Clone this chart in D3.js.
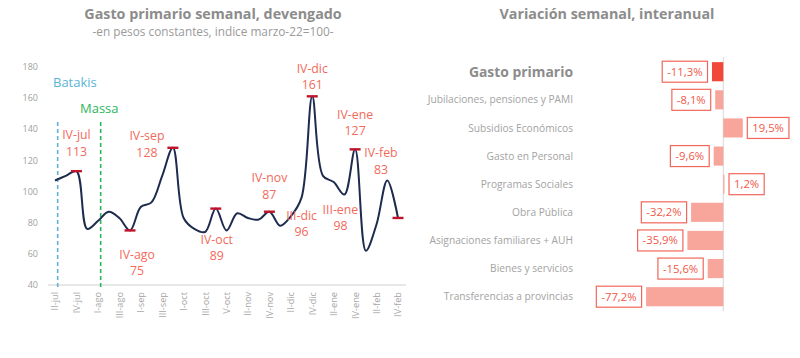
<!DOCTYPE html>
<html><head><meta charset="utf-8">
<script src="https://cdn.jsdelivr.net/npm/d3@7"></script>
<style>
body{margin:0;background:#fff;}
svg{font-family:"Open Sans","Noto Sans",sans-serif;}
</style></head>
<body><svg id="c" width="800" height="358"></svg>
<script>
// ---- Data: left chart ----
const weeks = ["II-jul","III-jul","IV-jul","V-jul","I-ago","II-ago","III-ago","IV-ago","I-sep","II-sep","III-sep","IV-sep","I-oct","II-oct","III-oct","IV-oct","V-oct","I-nov","II-nov","III-nov","IV-nov","I-dic","II-dic","III-dic","IV-dic","I-ene","II-ene","III-ene","IV-ene","I-feb","II-feb","III-feb","IV-feb"];
const gasto = [107,110,113,76,81,87,83,75,90,93,110,128,83,76,74,89,75,86,83,82,87,78,84,96,161,110,106,98,127,62,79,107,83];
const yTicks = [40,60,80,100,120,140,160,180];
const annotWeeks = ["IV-jul","IV-ago","IV-sep","IV-oct","IV-nov","III-dic","IV-dic","III-ene","IV-ene","IV-feb"];
const markerWeeks = ["IV-jul","IV-ago","IV-sep","IV-oct","IV-nov","IV-dic","IV-ene","IV-feb"];
const ministers = ["Batakis","Massa"];
const ministerPos = [0.25, 4.26]; // week index (0-based) of dashed line

// ---- Data: right chart ----
const categories = ["Gasto primario","Jubilaciones, pensiones y PAMI","Subsidios Económicos","Gasto en Personal","Programas Sociales","Obra Pública","Asignaciones familiares + AUH","Bienes y servicios","Transferencias a provincias"];
const variacion = [-11.3,-8.1,19.5,-9.6,1.2,-32.2,-35.9,-15.6,-77.2];

// ---- styles / layout ----
const annotOffsets = {"IV-jul":[0,-36],"IV-ago":[7,24],"IV-sep":[-26,-12],"IV-oct":[1,31],"IV-nov":[0,-34],"III-dic":[0,18],"IV-dic":[0,-28],"III-ene":[-4,15],"IV-ene":[0,-35],"IV-feb":[-17,-65]};
const ministerColors = ["#5ab4d6","#2db55d"];
const ministerLabelPos = [[53,82],[80,108]];

const svg = d3.select("#c");
const fmt = v => d3.format(".1f")(v).replace("\u2212","-").replace(".",",") + "%";

// Titles
svg.append("text").attr("x",213).attr("y",19).attr("text-anchor","middle")
  .attr("font-size",14.3).attr("font-weight",700).attr("fill","#8c8c8c").text("Gasto primario semanal, devengado");
svg.append("text").attr("x",213).attr("y",36).attr("text-anchor","middle")
  .attr("font-size",11.8).attr("fill","#9a9a9a").text("-en pesos constantes, indice marzo-22=100-");
svg.append("text").attr("x",607).attr("y",19).attr("text-anchor","middle")
  .attr("font-size",14.3).attr("font-weight",700).attr("fill","#8c8c8c").text("Variación semanal, interanual");

// Left chart scales
const x = d3.scaleLinear().domain([0, weeks.length-1]).range([55, 398]);
const y = d3.scaleLinear().domain([40,180]).range([285, 66.7]);

// Y axis labels
const yAx = svg.append("g").attr("transform","translate(38,0)")
  .call(d3.axisLeft(y).tickValues(yTicks).tickSize(0).tickPadding(0));
yAx.select(".domain").remove();
yAx.selectAll("text").attr("font-size",9).attr("fill","#a0a0a0").attr("font-family","Open Sans, sans-serif");

// X axis
const xAx = svg.append("g").attr("transform","translate(0,285)")
  .call(d3.axisBottom(x).tickValues(d3.range(0,weeks.length,2)).tickFormat(i=>weeks[i]).tickSize(0).tickPadding(0));
xAx.select(".domain").attr("stroke","#d0d0d0").attr("d","M48,0H406");
xAx.selectAll("text").attr("font-size",9.2).attr("fill","#a8a8a8").attr("font-family","Open Sans, sans-serif")
  .attr("transform","rotate(-90)").attr("text-anchor","end").attr("dy","0.32em").attr("x",-7).attr("y",0);

// Minister dashed lines
ministers.forEach((m,i)=>{
  svg.append("line").attr("x1",x(ministerPos[i])).attr("x2",x(ministerPos[i]))
    .attr("y1",122).attr("y2",288).attr("stroke",ministerColors[i]).attr("stroke-width",1.6)
    .attr("stroke-dasharray","4,3");
  svg.append("text").attr("x",ministerLabelPos[i][0]).attr("y",ministerLabelPos[i][1]).attr("dy","0.35em")
    .attr("font-size",13).attr("fill",ministerColors[i]).text(m);
});

// Line
const line = d3.line().x((d,i)=>x(i)).y(d=>y(d)).curve(d3.curveCatmullRom.alpha(0.5));
svg.append("path").datum(gasto).attr("d",line).attr("fill","none")
  .attr("stroke","#1d2b4f").attr("stroke-width",2);

// Markers
markerWeeks.forEach(w=>{
  const i = weeks.indexOf(w);
  svg.append("line").attr("x1",x(i)-5.5).attr("x2",x(i)+5.5).attr("y1",y(gasto[i])).attr("y2",y(gasto[i]))
    .attr("stroke","#c0142a").attr("stroke-width",2.4);
});

// Annotations
annotWeeks.forEach(w=>{
  const i = weeks.indexOf(w);
  const o = annotOffsets[w];
  const cx = x(i)+o[0], cy = y(gasto[i])+o[1];
  const t = svg.append("text").attr("text-anchor","middle").attr("font-size",12.3).attr("fill","#f26a5b");
  t.append("tspan").attr("x",cx).attr("y",cy).attr("dy","0.35em").text(w);
  t.append("tspan").attr("x",cx).attr("y",cy+16.5).attr("dy","0.35em").text(Math.round(gasto[i]));
});

// Right chart
const xb = d3.scaleLinear().domain([-80,20]).range([643.3,743.3]);
const yb = d3.scaleBand().domain(categories).range([57.64,310.76]).paddingInner(0.32).paddingOuter(0.16);

svg.append("line").attr("x1",xb(0)).attr("x2",xb(0)).attr("y1",57).attr("y2",311)
  .attr("stroke","#d6d6d6").attr("stroke-width",1);

categories.forEach((c,i)=>{
  const v = variacion[i];
  const cy = yb(c)+yb.bandwidth()/2;
  svg.append("rect").attr("x",xb(Math.min(0,v))).attr("y",yb(c))
    .attr("width",Math.abs(xb(v)-xb(0))).attr("height",yb.bandwidth())
    .attr("fill", i===0 ? "#f2483a" : "#f8a59b");
  const main = i===0;
  svg.append("text").attr("x",573).attr("y",cy).attr("dy","0.35em").attr("text-anchor","end")
    .attr("font-size",main?13.9:10.2).attr("font-weight",main?700:400)
    .attr("fill",main?"#8c8c8c":"#a3a3a3").text(c);
  // value label box
  const g = svg.append("g");
  const txt = g.append("text").attr("y",cy).attr("dy","0.35em").attr("font-size",11.3)
    .attr("fill","#f0584a").text(fmt(v));
  const w = txt.node().getComputedTextLength();
  const bw = w+10, bh = 21;
  const bx = v<0 ? xb(v)-4.5-bw : xb(v)+4.5;
  g.insert("rect","text").attr("x",bx).attr("y",cy-bh/2).attr("width",bw).attr("height",bh)
    .attr("fill","#fff").attr("stroke","#f0675a").attr("stroke-width",1.2);
  txt.attr("x",bx+bw/2).attr("text-anchor","middle");
});
</script></body></html>
